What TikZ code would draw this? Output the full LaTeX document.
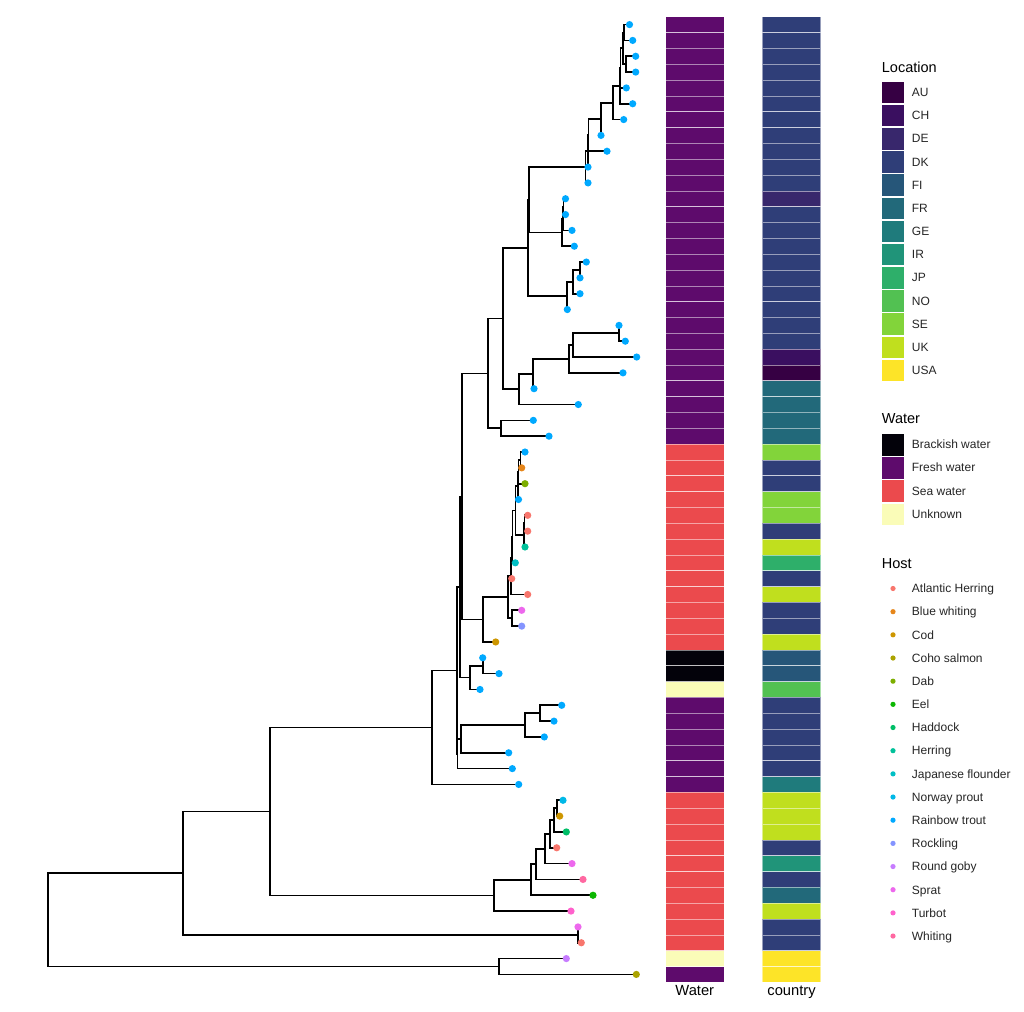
\documentclass[tikz,border=0pt]{standalone}
\usepackage{fontspec}
\setmainfont{Liberation Sans}
\usetikzlibrary{calc}
% host colours
\definecolor{hAH}{HTML}{F8766D}
\definecolor{hBW}{HTML}{E6861A}
\definecolor{hCod}{HTML}{CD9600}
\definecolor{hCS}{HTML}{ABA300}
\definecolor{hDab}{HTML}{7CAE00}
\definecolor{hEel}{HTML}{0CB702}
\definecolor{hHad}{HTML}{00BE67}
\definecolor{hHer}{HTML}{00C19A}
\definecolor{hJF}{HTML}{00BFC4}
\definecolor{hNP}{HTML}{00B8E7}
\definecolor{hRT}{HTML}{00A9FF}
\definecolor{hRoc}{HTML}{8494FF}
\definecolor{hRG}{HTML}{C77CFF}
\definecolor{hSpr}{HTML}{ED68ED}
\definecolor{hTur}{HTML}{FF61CC}
\definecolor{hWhi}{HTML}{FF68A1}
% water colours
\definecolor{wB}{HTML}{03020A}
\definecolor{wF}{HTML}{5E0B6C}
\definecolor{wS}{HTML}{EB4A4D}
\definecolor{wU}{HTML}{FAFCB8}
% location colours
\definecolor{cAU}{HTML}{360043}
\definecolor{cCH}{HTML}{3A0F60}
\definecolor{cDE}{HTML}{38276C}
\definecolor{cDK}{HTML}{2F3E78}
\definecolor{cFI}{HTML}{265679}
\definecolor{cFR}{HTML}{22697A}
\definecolor{cGE}{HTML}{1F7B7C}
\definecolor{cIR}{HTML}{209479}
\definecolor{cJP}{HTML}{2EAF6A}
\definecolor{cNO}{HTML}{52C152}
\definecolor{cSE}{HTML}{82D43A}
\definecolor{cUK}{HTML}{C0DF1E}
\definecolor{cUSA}{HTML}{FDE428}
\newcommand\treenode[4]{%
  \path let \p1=(#3),\p2=(#4) in (#2pt,{0.5*(\y1+\y2)}) coordinate (#1);
  \draw[branch] (#1) |- (#3) (#1) |- (#4);}
\def\tiplist{0/629.5/RT,1/632.7/RT,2/635.7/RT,3/635.7/RT,4/626.3/RT,5/632.7/RT,6/623.7/RT,7/601/RT,8/607/RT,9/588/RT,10/588/RT,11/565.5/RT,12/565.5/RT,13/572/RT,14/574.3/RT,15/586.3/RT,16/580/RT,17/580/RT,18/567.3/RT,19/619/RT,20/625.3/RT,21/636.7/RT,22/623/RT,23/534/RT,24/578.3/RT,25/533.3/RT,26/549/RT,27/525/RT,28/521.7/BW,29/525/Dab,30/518.5/RT,31/527.7/AH,32/527.7/AH,33/525/Her,34/515.3/JF,35/511.7/AH,36/527.7/AH,37/521.7/Spr,38/521.7/Roc,39/495.7/Cod,40/482.7/RT,41/499/RT,42/480/RT,43/561.7/RT,44/554/RT,45/544.3/RT,46/508.7/RT,47/512.3/RT,48/518.7/RT,49/563/NP,50/559.7/Cod,51/566.3/Had,52/556.7/AH,53/572/Spr,54/583/Whi,55/593/Eel,56/571/Tur,57/578/Spr,58/581.3/AH,59/566.3/RG,60/636.3/CS}
\def\rowlist{0/F/DK,1/F/DK,2/F/DK,3/F/DK,4/F/DK,5/F/DK,6/F/DK,7/F/DK,8/F/DK,9/F/DK,10/F/DK,11/F/DE,12/F/DK,13/F/DK,14/F/DK,15/F/DK,16/F/DK,17/F/DK,18/F/DK,19/F/DK,20/F/DK,21/F/CH,22/F/AU,23/F/FR,24/F/FR,25/F/FR,26/F/FR,27/S/SE,28/S/DK,29/S/DK,30/S/SE,31/S/SE,32/S/DK,33/S/UK,34/S/JP,35/S/DK,36/S/UK,37/S/DK,38/S/DK,39/S/UK,40/B/FI,41/B/FI,42/U/NO,43/F/DK,44/F/DK,45/F/DK,46/F/DK,47/F/DK,48/F/GE,49/S/UK,50/S/UK,51/S/UK,52/S/DK,53/S/IR,54/S/DK,55/S/FR,56/S/UK,57/S/DK,58/S/DK,59/U/USA,60/F/USA}
\begin{document}
\begin{tikzpicture}[x=1pt,y=-1pt,
  branch/.style={line width=1.7pt,draw=black},
  cell/.style={draw=white,draw opacity=0.5,line width=0.6pt},
  keybox/.style={draw=white,line width=0.6pt},
  lab/.style={anchor=base west,inner sep=0pt,font=\fontsize{12}{14}\selectfont,text=black!85},
  ttl/.style={anchor=base west,inner sep=0pt,font=\fontsize{14.5}{17}\selectfont,text=black},
  axl/.style={anchor=base,inner sep=0pt,font=\fontsize{14.7}{17}\selectfont,text=black}]
\useasboundingbox[fill=white] (0,0) rectangle (1024,1011);
% tips
\foreach \i/\tx/\h in \tiplist {\coordinate (t\i) at (\tx,{24.6+15.83*\i});}
% top clade A
\treenode{a1}{624}{t0}{t1}
\treenode{a2}{626}{t2}{t3}
\treenode{a3}{623.3}{a1}{a2}
\treenode{a4}{620.5}{a3}{t4}
\treenode{a5}{620}{a4}{t5}
\treenode{a6}{613.3}{a5}{t6}
\treenode{a7}{601}{a6}{t7}
\treenode{a8}{588.5}{a7}{t8}
\treenode{a9}{588}{a8}{t9}
\treenode{a10}{585.5}{a9}{t10}
% clade B
\treenode{b1}{563.5}{t11}{t12}
\treenode{b2}{563}{b1}{t13}
\treenode{b3}{562.3}{b2}{t14}
% clade C
\treenode{c1}{580}{t15}{t16}
\treenode{c2}{573.3}{c1}{t17}
\treenode{c3}{566.7}{c2}{t18}
\treenode{ab}{529}{a10}{b3}
\treenode{abc}{528}{ab}{c3}
% clade D
\treenode{d1}{619}{t19}{t20}
\treenode{d2}{572.7}{d1}{t21}
\treenode{d3}{569}{d2}{t22}
\treenode{d4}{532.7}{d3}{t23}
\treenode{d5}{519.3}{d4}{t24}
\treenode{e1}{503.3}{abc}{d5}
\treenode{f1}{500.7}{t25}{t26}
\treenode{g1}{487.7}{e1}{f1}
% middle sea-water clade
\treenode{m1}{520.5}{t27}{t28}
\treenode{m2}{518.5}{m1}{t29}
\treenode{m3}{517.8}{m2}{t30}
\treenode{m4}{524.5}{t31}{t32}
\treenode{m5}{524}{m4}{t33}
\treenode{m6}{515.5}{m3}{m5}
\treenode{m7}{512.5}{m6}{t34}
\treenode{m8}{511.5}{m7}{t35}
\treenode{m9}{511.2}{m8}{t36}
\treenode{m10}{512}{t37}{t38}
\treenode{m11}{508.3}{m9}{m10}
\treenode{m12}{482.7}{m11}{t39}
\treenode{h1}{461.7}{g1}{m12}
% 40-42
\treenode{k1}{482.7}{t40}{t41}
\treenode{k2}{470}{k1}{t42}
\treenode{h2}{460}{h1}{k2}
% 43-48
\treenode{p1}{540}{t43}{t44}
\treenode{p2}{525}{p1}{t45}
\treenode{p3}{460.7}{p2}{t46}
\treenode{p4}{457.5}{p3}{t47}
\treenode{h3}{456.7}{h2}{p4}
\treenode{h4}{432}{h3}{t48}
% bottom sea-water clade
\treenode{q1}{556.7}{t49}{t50}
\treenode{q2}{554}{q1}{t51}
\treenode{q3}{550.3}{q2}{t52}
\treenode{q4}{545.3}{q3}{t53}
\treenode{q5}{535.7}{q4}{t54}
\treenode{q6}{530.7}{q5}{t55}
\treenode{q7}{494.3}{q6}{t56}
\treenode{r1}{270}{h4}{q7}
\treenode{s1}{577.7}{t57}{t58}
\treenode{r2}{183}{r1}{s1}
\treenode{u1}{498.7}{t59}{t60}
\treenode{root}{48}{r2}{u1}
% tip points
\foreach \i/\tx/\h in \tiplist {\fill[h\h] (t\i) circle (3.6pt);}
% heatmap
\foreach \i/\w/\c in \rowlist {
  \path[fill=w\w,cell] (665.7,{16.7+15.83*\i}) rectangle ++(58.3,15.83);
  \path[fill=c\c,cell] (762.3,{16.7+15.83*\i}) rectangle ++(58.4,15.83);
}
\node[axl] (waterlab) at (694.8,995.5) {Water};
\node[axl] (countrylab) at (791.5,995.5) {country};
% legend: Location
\node[ttl] (loctitle) at (881.7,72.5) {Location};
\foreach \k [count=\n from 0] in {AU,CH,DE,DK,FI,FR,GE,IR,JP,NO,SE,UK,USA} {
  \path[fill=c\k,keybox] (881.7,{81+23.17*\n}) rectangle ++(22.6,22.6);
  \node[lab] (loc\k) at (911.7,{96.5+23.17*\n}) {\k};
}
% legend: Water
\node[ttl] (wattitle) at (881.7,423.7) {Water};
\foreach \k/\t [count=\n from 0] in {B/Brackish water,F/Fresh water,S/Sea water,U/Unknown} {
  \path[fill=w\k,keybox] (881.7,{433.3+23.17*\n}) rectangle ++(22.6,22.6);
  \node[lab] (wat\k) at (911.7,{448.8+23.17*\n}) {\t};
}
% legend: Host
\node[ttl] (hosttitle) at (881.7,568.2) {Host};
\foreach \k/\t [count=\n from 0] in {AH/Atlantic Herring,BW/Blue whiting,Cod/Cod,CS/Coho salmon,Dab/Dab,Eel/Eel,Had/Haddock,Her/Herring,JF/Japanese flounder,NP/Norway prout,RT/Rainbow trout,Roc/Rockling,RG/Round goby,Spr/Sprat,Tur/Turbot,Whi/Whiting} {
  \fill[h\k] (893,{588.5+23.17*\n}) circle (2.6pt);
  \node[lab] (host\k) at (911.7,{592.8+23.17*\n}) {\t};
}
\end{tikzpicture}
\end{document}
